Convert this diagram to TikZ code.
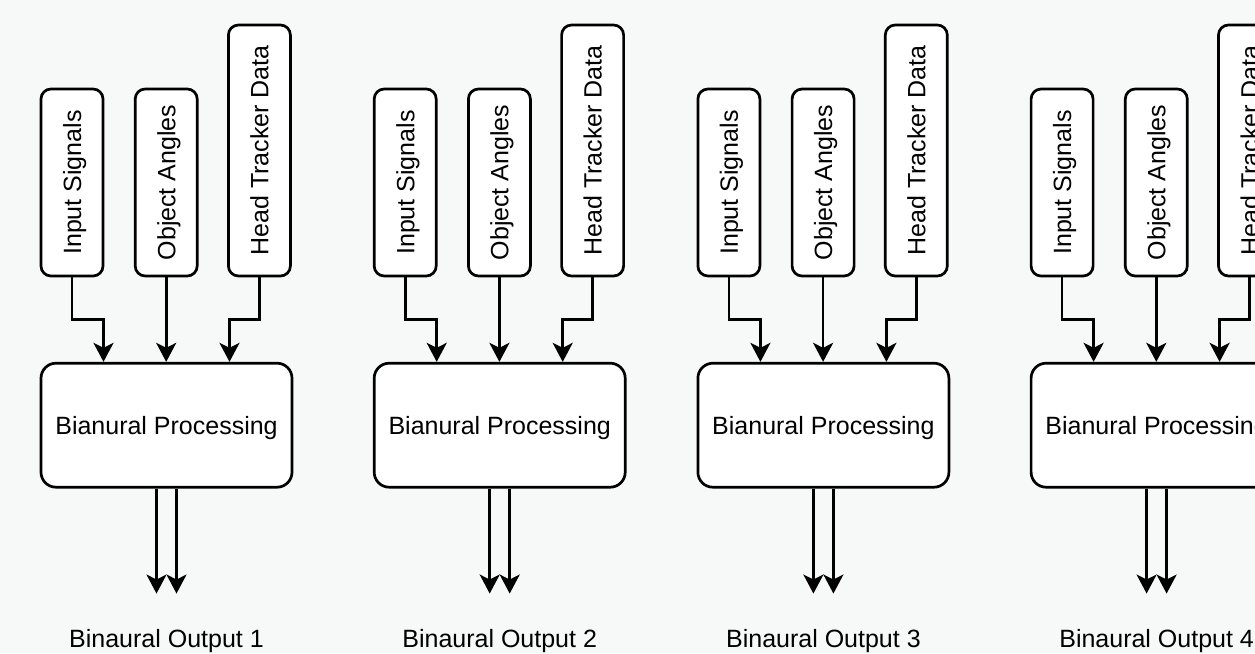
\documentclass[tikz,border=0pt]{standalone}
\usepackage{fontspec}
\setmainfont{Liberation Sans}
\usepackage{tikz}
\usetikzlibrary{positioning, arrows.meta}
\definecolor{bgcol}{HTML}{F7F8F8}
\newcommand{\uptext}[1]{\rotatebox{90}{\raisebox{0pt}[\height][0pt]{#1}}}

\begin{document}
\begin{tikzpicture}[-, node distance=1cm, line width=2.7pt,
	every node/.style={font=\fontsize{25}{30}\selectfont},
	feed/.style={draw, fill=white, rounded corners=10pt, minimum width=62pt, inner sep=0pt},
	proc/.style={draw, fill=white, rounded corners=15pt, minimum width=251pt, minimum height=124pt, inner sep=0pt, text depth=0pt},
	lbl/.style={inner sep=0pt},
	arr/.style={-{Stealth[length=19pt, width=20pt, inset=5pt]}}]

	\useasboundingbox (0,0) rectangle (1255pt,-653pt);
	\clip (0,0) rectangle (1255pt,-653pt);
	\fill[bgcol] (0,0) rectangle (1255pt,-653pt);

	\node[feed, minimum height=187pt] (in1) at (72pt,-182.5pt) {\uptext{Input Signals}};
	\node[feed, minimum height=187pt, right=29.5pt of in1] (ang1) {\uptext{Object Angles}};
	\node[feed, minimum height=251pt, right=28.5pt of ang1.south east, anchor=south west] (head1) {\uptext{Head Tracker Data}};
	\node[proc, below=84.5pt of in1.south west, anchor=north west] (proc1) {Bianural Processing};
	\coordinate[below=105pt of proc1.south] (end1);
	\node[lbl, below=152pt of proc1.south, anchor=center] (out1) {Binaural Output 1};

	\node[feed, minimum height=187pt, right=268.5pt of in1] (in2) {\uptext{Input Signals}};
	\node[feed, minimum height=187pt, right=29.5pt of in2] (ang2) {\uptext{Object Angles}};
	\node[feed, minimum height=251pt, right=28.5pt of ang2.south east, anchor=south west] (head2) {\uptext{Head Tracker Data}};
	\node[proc, below=84.5pt of in2.south west, anchor=north west] (proc2) {Bianural Processing};
	\coordinate[below=105pt of proc2.south] (end2);
	\node[lbl, below=152pt of proc2.south, anchor=center] (out2) {Binaural Output 2};

	\node[feed, minimum height=187pt, right=259pt of in2] (in3) {\uptext{Input Signals}};
	\node[feed, minimum height=187pt, right=29.5pt of in3] (ang3) {\uptext{Object Angles}};
	\node[feed, minimum height=251pt, right=28.5pt of ang3.south east, anchor=south west] (head3) {\uptext{Head Tracker Data}};
	\node[proc, below=84.5pt of in3.south west, anchor=north west] (proc3) {Bianural Processing};
	\coordinate[below=105pt of proc3.south] (end3);
	\node[lbl, below=152pt of proc3.south, anchor=center] (out3) {Binaural Output 3};

	\node[feed, minimum height=187pt, right=268.5pt of in3] (in4) {\uptext{Input Signals}};
	\node[feed, minimum height=187pt, right=29.5pt of in4] (ang4) {\uptext{Object Angles}};
	\node[feed, minimum height=251pt, right=28.5pt of ang4.south east, anchor=south west] (head4) {\uptext{Head Tracker Data}};
	\node[proc, below=84.5pt of in4.south west, anchor=north west] (proc4) {Bianural Processing};
	\coordinate[below=105pt of proc4.south] (end4);
	\node[lbl, below=152pt of proc4.south, anchor=center] (out4) {Binaural Output 4};


	\draw[arr] (in1.south) -- ++(0,-42pt) -| ([xshift=-63pt]proc1.north);
	\draw[arr] (ang1.south) -- (ang1.south |- proc1.north);
	\draw[arr] (head1.south) -- ++(0,-42pt) -| ([xshift=63pt]proc1.north);
	\draw[arr] ([xshift=-10pt]proc1.south) -- ([xshift=-10pt]end1);
	\draw[arr] ([xshift=10pt]proc1.south) -- ([xshift=10pt]end1);

	\draw[arr] (in2.south) -- ++(0,-42pt) -| ([xshift=-63pt]proc2.north);
	\draw[arr] (ang2.south) -- (ang2.south |- proc2.north);
	\draw[arr] (head2.south) -- ++(0,-42pt) -| ([xshift=63pt]proc2.north);
	\draw[arr] ([xshift=-10pt]proc2.south) -- ([xshift=-10pt]end2);
	\draw[arr] ([xshift=10pt]proc2.south) -- ([xshift=10pt]end2);

	\draw[arr] (in3.south) -- ++(0,-42pt) -| ([xshift=-63pt]proc3.north);
	\draw[arr] (ang3.south) -- (ang3.south |- proc3.north);
	\draw[arr] (head3.south) -- ++(0,-42pt) -| ([xshift=63pt]proc3.north);
	\draw[arr] ([xshift=-10pt]proc3.south) -- ([xshift=-10pt]end3);
	\draw[arr] ([xshift=10pt]proc3.south) -- ([xshift=10pt]end3);

	\draw[arr] (in4.south) -- ++(0,-42pt) -| ([xshift=-63pt]proc4.north);
	\draw[arr] (ang4.south) -- (ang4.south |- proc4.north);
	\draw[arr] (head4.south) -- ++(0,-42pt) -| ([xshift=63pt]proc4.north);
	\draw[arr] ([xshift=-10pt]proc4.south) -- ([xshift=-10pt]end4);
	\draw[arr] ([xshift=10pt]proc4.south) -- ([xshift=10pt]end4);

\end{tikzpicture}
\end{document}
